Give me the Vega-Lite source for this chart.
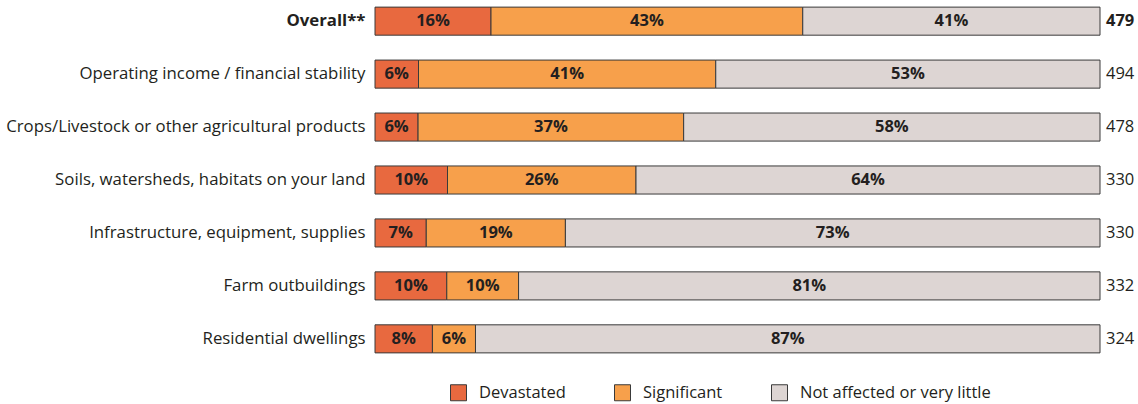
{
  "$schema": "https://vega.github.io/schema/vega-lite/v6.json",
  "width": 725,
  "height": 350,
  "autosize": "none",
  "padding": {"left": 375, "top": 5, "right": 38, "bottom": 49},
  "background": "white",
  "config": {"view": {"stroke": null}, "font": "Open Sans"},
  "datasets": {
    "bars": [
      {"item": "Overall**", "cat": "Devastated", "pct": 16},
      {"item": "Overall**", "cat": "Significant", "pct": 43},
      {"item": "Overall**", "cat": "Not affected or very little", "pct": 41},
      {"item": "Operating income / financial stability", "cat": "Devastated", "pct": 6},
      {"item": "Operating income / financial stability", "cat": "Significant", "pct": 41},
      {"item": "Operating income / financial stability", "cat": "Not affected or very little", "pct": 53},
      {"item": "Crops/Livestock or other agricultural products", "cat": "Devastated", "pct": 6},
      {"item": "Crops/Livestock or other agricultural products", "cat": "Significant", "pct": 37},
      {"item": "Crops/Livestock or other agricultural products", "cat": "Not affected or very little", "pct": 58},
      {"item": "Soils, watersheds, habitats on your land", "cat": "Devastated", "pct": 10},
      {"item": "Soils, watersheds, habitats on your land", "cat": "Significant", "pct": 26},
      {"item": "Soils, watersheds, habitats on your land", "cat": "Not affected or very little", "pct": 64},
      {"item": "Infrastructure, equipment, supplies", "cat": "Devastated", "pct": 7},
      {"item": "Infrastructure, equipment, supplies", "cat": "Significant", "pct": 19},
      {"item": "Infrastructure, equipment, supplies", "cat": "Not affected or very little", "pct": 73},
      {"item": "Farm outbuildings", "cat": "Devastated", "pct": 10},
      {"item": "Farm outbuildings", "cat": "Significant", "pct": 10},
      {"item": "Farm outbuildings", "cat": "Not affected or very little", "pct": 81},
      {"item": "Residential dwellings", "cat": "Devastated", "pct": 8},
      {"item": "Residential dwellings", "cat": "Significant", "pct": 6},
      {"item": "Residential dwellings", "cat": "Not affected or very little", "pct": 87}
    ],
    "counts": [
      {"item": "Overall**", "n": 479},
      {"item": "Operating income / financial stability", "n": 494},
      {"item": "Crops/Livestock or other agricultural products", "n": 478},
      {"item": "Soils, watersheds, habitats on your land", "n": 330},
      {"item": "Infrastructure, equipment, supplies", "n": 330},
      {"item": "Farm outbuildings", "n": 332},
      {"item": "Residential dwellings", "n": 324}
    ]
  },
  "encoding": {
    "y": {
      "field": "item",
      "type": "nominal",
      "sort": null,
      "scale": {"paddingInner": 0.47, "paddingOuter": 0.04},
      "axis": {
        "title": null,
        "ticks": false,
        "domain": false,
        "labelPadding": 10,
        "labelFontSize": 16.8,
        "labelColor": "#231f20",
        "labelFont": "Open Sans",
        "labelFontWeight": {"condition": {"test": "datum.value == 'Overall**'", "value": "bold"}, "value": "normal"},
        "labelLimit": 400
      }
    }
  },
  "layer": [
    {
      "data": {"name": "bars"},
      "transform": [
        {"calculate": "indexof(['Devastated','Significant','Not affected or very little'], datum.cat)", "as": "ord"},
        {"calculate": "datum.pct + '%'", "as": "label"},
        {"stack": "pct", "groupby": ["item"], "sort": [{"field": "ord"}], "offset": "normalize", "as": ["x0", "x1"]},
        {"calculate": "(datum.x0 + datum.x1) / 2", "as": "xm"}
      ],
      "layer": [
        {
          "mark": {"type": "bar", "stroke": "#3a3a3a", "strokeWidth": 1},
          "encoding": {
            "x": {"field": "x0", "type": "quantitative", "scale": {"domain": [0, 1], "nice": false}, "axis": null},
            "x2": {"field": "x1"},
            "color": {
              "field": "cat",
              "type": "nominal",
              "scale": {"domain": ["Devastated", "Significant", "Not affected or very little"], "range": ["#e8693f", "#f7a04b", "#ddd5d3"]},
              "legend": {
                "title": null,
                "orient": "none",
                "direction": "horizontal",
                "legendX": 75,
                "legendY": 379,
                "symbolType": "square",
                "symbolSize": 256,
                "symbolStrokeColor": "#3a3a3a",
                "symbolStrokeWidth": 1,
                "labelFontSize": 16.5,
                "labelFont": "Open Sans",
                "labelColor": "#231f20",
                "labelOffset": 12,
                "columnPadding": 46,
                "labelLimit": 300
              }
            }
          }
        },
        {
          "mark": {"type": "text", "fontWeight": "bold", "fontSize": 16.5, "color": "#231f20", "font": "Open Sans"},
          "encoding": {
            "x": {"field": "xm", "type": "quantitative"},
            "text": {"field": "label", "type": "nominal"}
          }
        }
      ]
    },
    {
      "data": {"name": "counts"},
      "transform": [{"filter": "datum.item != 'Overall**'"}],
      "mark": {"type": "text", "align": "left", "dx": 6, "fontSize": 16.5, "color": "#231f20", "font": "Open Sans"},
      "encoding": {
        "x": {"datum": 1, "type": "quantitative"},
        "text": {"field": "n", "type": "quantitative"}
      }
    },
    {
      "data": {"name": "counts"},
      "transform": [{"filter": "datum.item == 'Overall**'"}],
      "mark": {"type": "text", "align": "left", "dx": 6, "fontSize": 16.5, "fontWeight": "bold", "color": "#231f20", "font": "Open Sans"},
      "encoding": {
        "x": {"datum": 1, "type": "quantitative"},
        "text": {"field": "n", "type": "quantitative"}
      }
    }
  ]
}
